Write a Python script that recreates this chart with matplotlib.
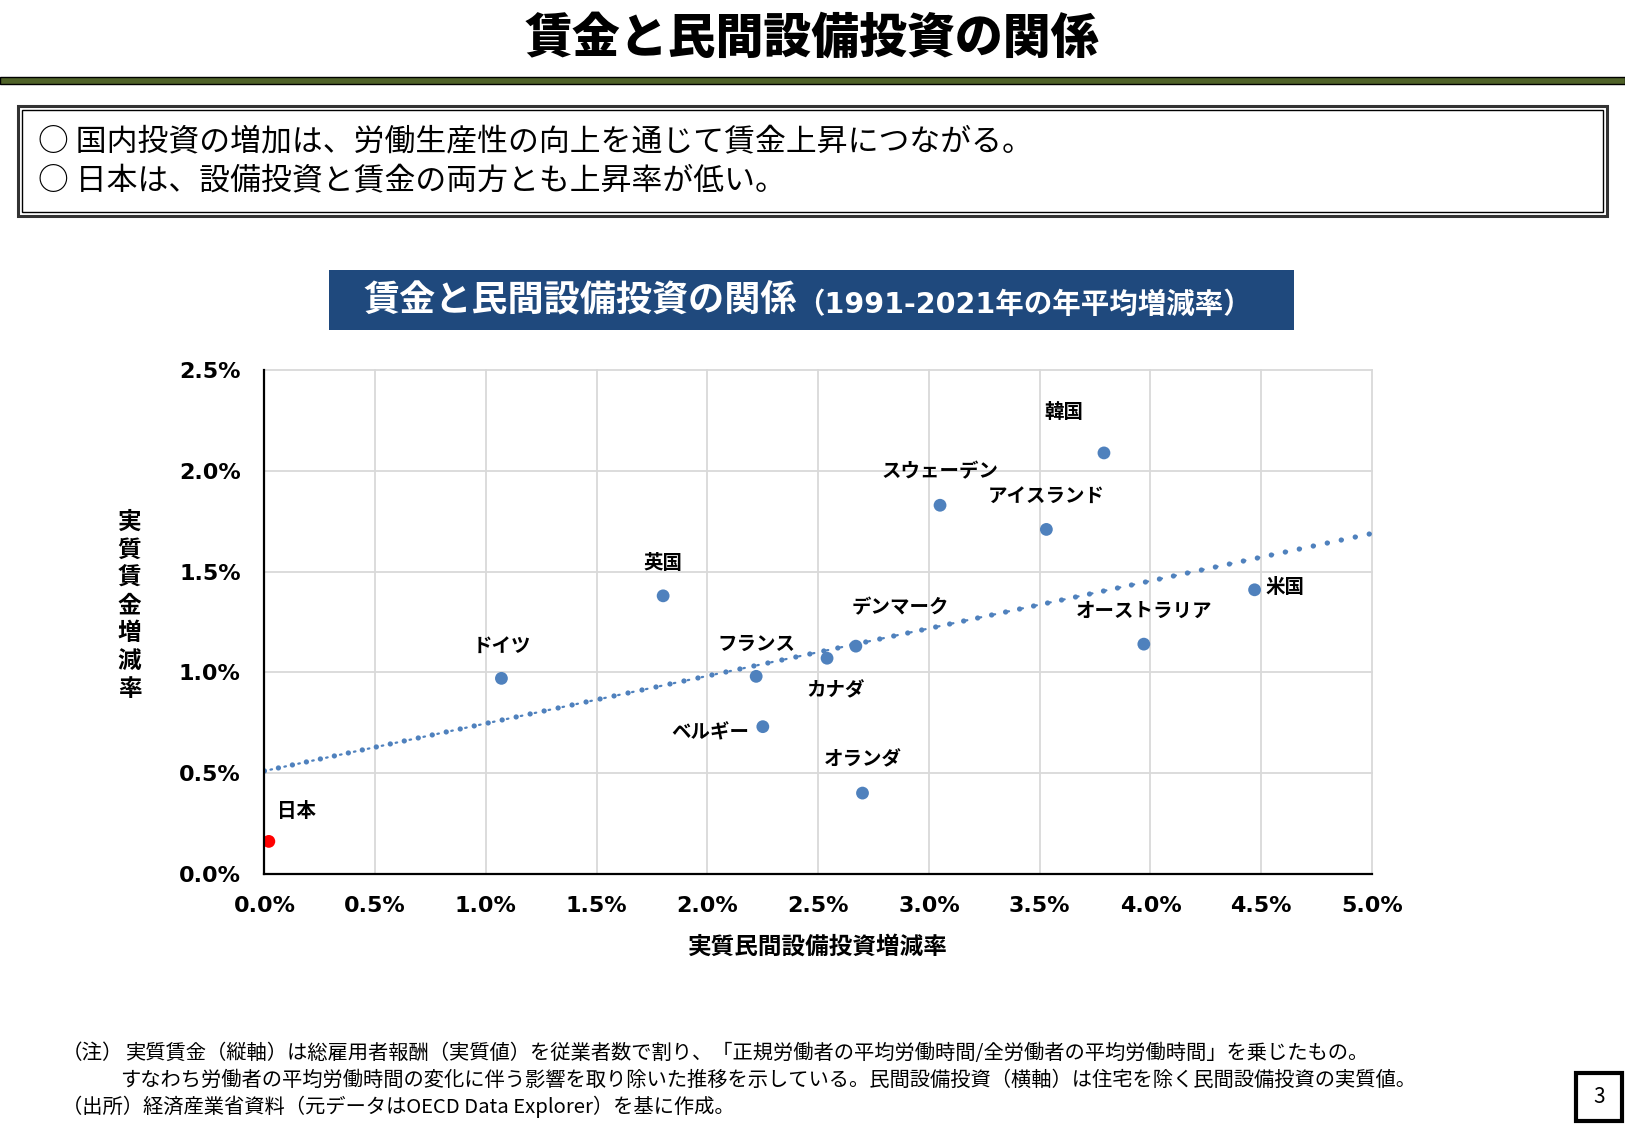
import numpy as np
import matplotlib
matplotlib.use('Agg')
from matplotlib import pyplot as plt
from matplotlib.patches import Rectangle
from matplotlib.text import Annotation

plt.rcParams['font.family'] = ['Noto Sans CJK JP', 'DejaVu Sans']

# data (percent per year, 1991-2021)
countries = ['日本', 'ドイツ', '英国', 'フランス', 'ベルギー', 'カナダ', 'デンマーク',
             'オランダ', 'スウェーデン', 'アイスランド', '韓国', 'オーストラリア', '米国']
invest = [0.02, 1.07, 1.80, 2.22, 2.25, 2.54, 2.67, 2.70, 3.05, 3.53, 3.79, 3.97, 4.47]
wage = [0.16, 0.97, 1.38, 0.98, 0.73, 1.07, 1.13, 0.40, 1.83, 1.71, 2.09, 1.14, 1.41]
trend_intercept = 0.51
trend_slope = 0.236
x_ticks = [0.0, 0.5, 1.0, 1.5, 2.0, 2.5, 3.0, 3.5, 4.0, 4.5, 5.0]
y_ticks = [0.0, 0.5, 1.0, 1.5, 2.0, 2.5]

# label placement: offset in pixels from the point, horizontal alignment
label_pos = {
    '日本': (28, 30, 'center'),
    'ドイツ': (0, 32, 'center'),
    '英国': (0, 32, 'center'),
    'フランス': (0, 32, 'center'),
    'ベルギー': (-14, -6, 'right'),
    'カナダ': (9, -33, 'center'),
    'デンマーク': (44, 38, 'center'),
    'オランダ': (0, 33, 'center'),
    'スウェーデン': (0, 33, 'center'),
    'アイスランド': (0, 33, 'center'),
    '韓国': (-40, 40, 'center'),
    'オーストラリア': (0, 33, 'center'),
    '米国': (11, 2, 'left'),
}

W, H = 1625, 1125
def fx(px):
    return px / W
def fy(py):
    return 1 - py / H

fig = plt.figure(figsize=(W / 100, H / 100), dpi=100)

# page title and band
fig.text(fx(812), fy(38), '賃金と民間設備投資の関係', ha='center', va='center',
         fontsize=34.5, fontweight='heavy')
fig.add_artist(Rectangle((0, fy(84.3)), 1, 7 / H, transform=fig.transFigure,
                         facecolor='#4F6228', edgecolor='black', lw=1))

# message box
fig.add_artist(Rectangle((fx(18), fy(216)), fx(1607) - fx(18), 110 / H,
                         transform=fig.transFigure, fill=False, edgecolor='#333333', lw=2.2))
fig.add_artist(Rectangle((fx(22), fy(212)), fx(1603) - fx(22), 102 / H,
                         transform=fig.transFigure, fill=False, edgecolor='black', lw=1.0))
fig.text(fx(38), fy(142.5), '○ 国内投資の増加は、労働生産性の向上を通じて賃金上昇につながる。',
         fontsize=22.2, va='center')
fig.text(fx(38), fy(181.5), '○ 日本は、設備投資と賃金の両方とも上昇率が低い。',
         fontsize=22.2, va='center')

# chart title box
fig.add_artist(Rectangle((fx(329), fy(329.5)), fx(1294) - fx(329), 59.5 / H,
                         transform=fig.transFigure, facecolor='#1F497D', edgecolor='none'))
t1 = fig.text(fx(363), fy(300), '賃金と民間設備投資の関係', color='white', fontsize=26,
              fontweight='bold', va='center')
sub = Annotation('（1991-2021年の年平均増減率）', xy=(1, 0), xycoords=t1, va='bottom',
                 ha='left', color='white', fontsize=20.5, fontweight='bold',
                 family=['DejaVu Sans', 'Noto Sans CJK JP'])
fig.add_artist(sub)

# scatter chart
ax = fig.add_axes([fx(264.4), fy(873.6), fx(1372) - fx(264.4), (873.6 - 370.4) / H])
ax.set_xlim(x_ticks[0], x_ticks[-1])
ax.set_ylim(y_ticks[0], y_ticks[-1])

xs = np.array(ax.get_xlim())
ys = trend_intercept + trend_slope * xs
ax.plot(xs, ys, color='#4F81BD', lw=3.8, linestyle=(0, (0.01, 2.7)),
        dash_capstyle='round', zorder=2)
ax.plot(xs, ys, color='#4F81BD', lw=1.6, linestyle=(3.6, (0.7, 5.7)),
        dash_capstyle='round', zorder=2)

colors = ['#FF0000' if c == '日本' else '#4F81BD' for c in countries]
ax.scatter(invest, wage, s=85, c=colors, zorder=3, linewidths=0)

for name, x, y in zip(countries, invest, wage):
    dx, dy, ha = label_pos[name]
    ax.annotate(name, (x, y), xytext=(dx, dy), textcoords='offset pixels',
                ha=ha, va='center', fontsize=14, fontweight='bold')

ax.set_xticks(x_ticks)
ax.set_xticklabels([f'{v:.1f}%' for v in x_ticks])
ax.set_yticks(y_ticks)
ax.set_yticklabels([f'{v:.1f}%' for v in y_ticks])
for lab in ax.get_xticklabels() + ax.get_yticklabels():
    lab.set_family('DejaVu Sans')
    lab.set_fontweight('bold')
    lab.set_fontsize(16)
ax.tick_params(axis='x', length=0, pad=16)
ax.tick_params(axis='y', length=0, pad=17)
ax.grid(True, color='#D9D9D9', lw=1.3, clip_on=False)
ax.set_axisbelow(True)
for side in ['top', 'right']:
    ax.spines[side].set_visible(False)
for side in ['left', 'bottom']:
    ax.spines[side].set_linewidth(1.6)
    ax.spines[side].set_zorder(4)

fig.text(fx(129.5), fy(605.5), '\n'.join('実質賃金増減率'), ha='center', va='center',
         fontsize=17, fontweight='bold', linespacing=1.2)
fig.text(fx(818), fy(947), '実質民間設備投資増減率', ha='center', va='center',
         fontsize=17, fontweight='bold')

# footnotes
fig.text(fx(62), fy(1053), '（注）', fontsize=14.8, va='center')
fig.text(fx(126), fy(1053), '実質賃金（縦軸）は総雇用者報酬（実質値）を従業者数で割り、「正規労働者の平均労働時間/全労働者の平均労働時間」を乗じたもの。',
         fontsize=14.6, va='center')
fig.text(fx(120), fy(1080), 'すなわち労働者の平均労働時間の変化に伴う影響を取り除いた推移を示している。民間設備投資（横軸）は住宅を除く民間設備投資の実質値。',
         fontsize=14.6, va='center')
fig.text(fx(62), fy(1107), '（出所）経済産業省資料（元データはOECD Data Explorer）を基に作成。',
         fontsize=14.6, va='center')

# page number
fig.add_artist(Rectangle((fx(1576), fy(1121)), 46 / W, 48 / H, transform=fig.transFigure,
                         fill=False, edgecolor='black', lw=3))
fig.text(fx(1599), fy(1097), '3', ha='center', va='center', fontsize=15)

fig.savefig('out.png', dpi=100)
